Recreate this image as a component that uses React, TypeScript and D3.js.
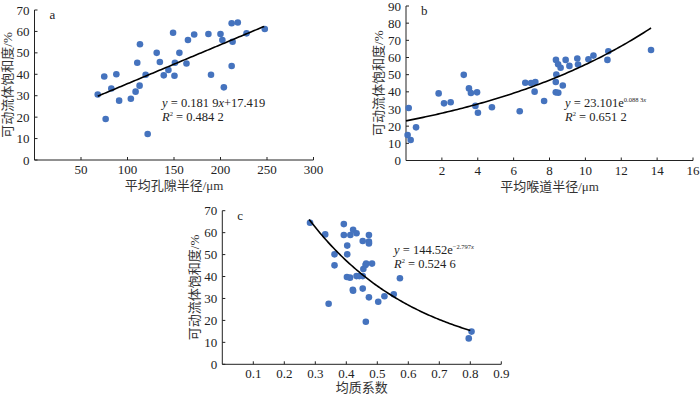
import * as d3 from 'd3';

// panel a: 平均孔隙半径 vs 可动流体饱和度
const aX = [68, 75, 76.5, 82.6, 88, 91, 103.6, 108.7, 110.5, 113, 113.4, 119.5, 121.7, 131.4, 134.8, 139, 144, 149, 150.5, 151, 155.8, 163.4, 165, 171.7, 187, 189.8, 200, 202, 203.6, 212, 212, 213, 218.6, 228, 247.6];
const aY = [30.6, 39, 19.1, 33.4, 40, 27.7, 28.6, 31.9, 45.4, 34.7, 54, 39.8, 12.1, 50, 45.7, 39.5, 42, 59.4, 39.3, 45.4, 50, 45, 56, 58.6, 58.8, 39.8, 58.8, 56, 33.9, 63.8, 43.9, 55.2, 64.2, 59.1, 61.1];

// panel b: 平均喉道半径
const bX = [0.09, 0.15, 0.26, 0.56, 1.82, 2.12, 2.49, 3.22, 3.51, 3.62, 3.87, 3.96, 4.01, 4.79, 6.34, 6.65, 6.97, 7.21, 7.17, 7.7, 8.35, 8.49, 8.35, 8.38, 8.36, 8.48, 8.62, 8.74, 8.9, 9.11, 9.55, 9.59, 10.17, 10.45, 11.23, 11.28, 13.66];
const bY = [14.8, 30.6, 11.9, 19.3, 39.1, 33.3, 33.9, 49.9, 42, 39.3, 31.8, 39.7, 27.8, 31, 28.7, 45.3, 45.1, 45.7, 40.1, 34.7, 39.7, 39.5, 45.7, 50.1, 58.6, 56.1, 54, 43.7, 58.6, 55.1, 59.4, 55.9, 59, 61.1, 58.6, 63.6, 64.4];

// panel c: 均质系数
const cX = [0.283, 0.332, 0.343, 0.362, 0.362, 0.392, 0.392, 0.403, 0.403, 0.402, 0.412, 0.413, 0.422, 0.421, 0.422, 0.433, 0.433, 0.442, 0.453, 0.453, 0.453, 0.455, 0.462, 0.463, 0.464, 0.473, 0.473, 0.473, 0.473, 0.483, 0.503, 0.523, 0.553, 0.573, 0.795, 0.804];
const cY = [64.5, 59.2, 27.6, 50.1, 45.1, 63.9, 58.9, 54.1, 50.1, 39.8, 39.5, 58.9, 61.3, 34, 33.5, 59.7, 40.2, 40.2, 56.2, 40.2, 34.5, 43.4, 45.2, 19.4, 45.9, 58.9, 55.9, 55.1, 30.5, 45.9, 28.5, 31, 31.9, 39.2, 11.8, 14.9];

const aXTicks = [50, 100, 150, 200, 250, 300];
const bXTicks = [2, 4, 6, 8, 10, 12, 14, 16];
const cXTicks = [0.1, 0.2, 0.3, 0.4, 0.5, 0.6, 0.7, 0.8, 0.9];
const yTicks70 = [0, 10, 20, 30, 40, 50, 60, 70];
const yTicks90 = [0, 10, 20, 30, 40, 50, 60, 70, 80, 90];

const FONT = '"Liberation Serif", "Noto Sans CJK SC", serif';
const DOT = '#4573be';
const INK = '#222';

interface PanelProps {
  xs: number[];
  ys: number[];
  xDomain: [number, number];
  yDomain: [number, number];
  xRange: [number, number];
  yRange: [number, number];
  xTicks: number[];
  yTicks: number[];
  fit: (x: number) => number;
  fitFrom: number;
  fitTo: number;
  letter: string;
  xTitle: string;
  titleGap?: number;
  eq: { x: number; y: number; a: string; exp?: string; mid?: string; r2: string };
}

function Panel(p: PanelProps) {
  const x = d3.scaleLinear().domain(p.xDomain).range(p.xRange);
  const y = d3.scaleLinear().domain(p.yDomain).range(p.yRange);
  const [x0, x1] = p.xRange;
  const [yb, yt] = p.yRange;

  const pts = d3.range(0, 101).map(i => p.fitFrom + (p.fitTo - p.fitFrom) * i / 100);
  const line = d3.line<number>().x(d => x(d)).y(d => y(p.fit(d)));

  return (
    <g fontFamily={FONT} fill={INK}>
      {/* axes */}
      <line x1={x0} x2={x0} y1={yb} y2={yt} stroke={INK} strokeWidth={1} />
      <line x1={x0} x2={x1} y1={yb} y2={yb} stroke={INK} strokeWidth={1} />
      {p.yTicks.map(t => (
        <g key={'y' + t}>
          <line x1={x0} x2={x0 + 3} y1={y(t)} y2={y(t)} stroke={INK} />
          <text x={x0 - 5} y={y(t)} dy="0.35em" textAnchor="end" fontSize={13}>{t}</text>
        </g>
      ))}
      {p.xTicks.map(t => (
        <g key={'x' + t}>
          <line x1={x(t)} x2={x(t)} y1={yb} y2={yb - 3} stroke={INK} />
          <text x={x(t)} y={yb + 14} textAnchor="middle" fontSize={13}>{t}</text>
        </g>
      ))}
      <text x={x0 + 15} y={yt + 9} fontSize={13}>{p.letter}</text>
      <text
        transform={`translate(${x0 - 23},${(yb + yt) / 2}) rotate(-90)`}
        textAnchor="middle"
        fontSize={13}
        fill="#333"
      >可动流体饱和度/%</text>
      <text x={(x0 + x1) / 2} y={yb + (p.titleGap ?? 30)} textAnchor="middle" fontSize={13} fill="#333">{p.xTitle}</text>

      {/* points */}
      {p.xs.map((v, i) => (
        <circle key={i} cx={x(v)} cy={y(p.ys[i])} r={3.3} fill={DOT} />
      ))}

      {/* trend */}
      <path d={line(pts) || ''} fill="none" stroke="#000" strokeWidth={1.6} />

      {/* equation */}
      <text x={p.eq.x} y={p.eq.y} fontSize={12.5}>
        <tspan fontStyle="italic">y</tspan>
        <tspan> = {p.eq.a}</tspan>
        {p.eq.mid ? <tspan fontStyle="italic">x</tspan> : null}
        {p.eq.mid ? <tspan>{p.eq.mid}</tspan> : null}
        {p.eq.exp ? <tspan fontSize={6.5} dy={-5}>{p.eq.exp}</tspan> : null}
        {p.eq.exp ? <tspan fontSize={6.5} fontStyle="italic">x</tspan> : null}
      </text>
      <text x={p.eq.x} y={p.eq.y + 14} fontSize={12.5}>
        <tspan fontStyle="italic">R</tspan>
        <tspan fontSize={6.5} dy={-5}>2</tspan>
        <tspan dy={5}> = {p.eq.r2}</tspan>
      </text>
    </g>
  );
}

export default function App() {
  return (
    <svg
      width={700}
      height={396}
      style={{ position: 'absolute', left: 0, top: 0, background: '#fff' }}
    >
      <Panel
        xs={aX} ys={aY}
        xDomain={[0, 300]} yDomain={[0, 70]}
        xRange={[34.5, 313.5]} yRange={[160, 10]}
        xTicks={aXTicks} yTicks={yTicks70}
        fit={v => 0.1819 * v + 17.419} fitFrom={68} fitTo={247}
        letter="a" xTitle="平均孔隙半径/μm"
        eq={{ x: 162, y: 107, a: '0.181 9', mid: '+17.419', r2: '0.484 2' }}
      />
      <Panel
        xs={bX} ys={bY}
        xDomain={[0, 16]} yDomain={[0, 90]}
        xRange={[406, 693]} yRange={[160.5, 6]}
        xTicks={bXTicks} yTicks={yTicks90}
        fit={v => 23.101 * Math.exp(0.0883 * v)} fitFrom={0} fitTo={13.66}
        letter="b" xTitle="平均喉道半径/μm"
        eq={{ x: 565, y: 107, a: '23.101e', exp: '0.088 3', r2: '0.651 2' }}
      />
      <Panel
        xs={cX} ys={cY}
        xDomain={[0, 0.9]} yDomain={[0, 70]}
        xRange={[222.3, 501.3]} yRange={[364.3, 210.7]}
        xTicks={cXTicks} yTicks={yTicks70}
        fit={v => 144.52 * Math.exp(-2.797 * v)} fitFrom={0.28} fitTo={0.8}
        letter="c" xTitle="均质系数" titleGap={28}
        eq={{ x: 394, y: 254, a: '144.52e', exp: '−2.797', r2: '0.524 6' }}
      />
    </svg>
  );
}
